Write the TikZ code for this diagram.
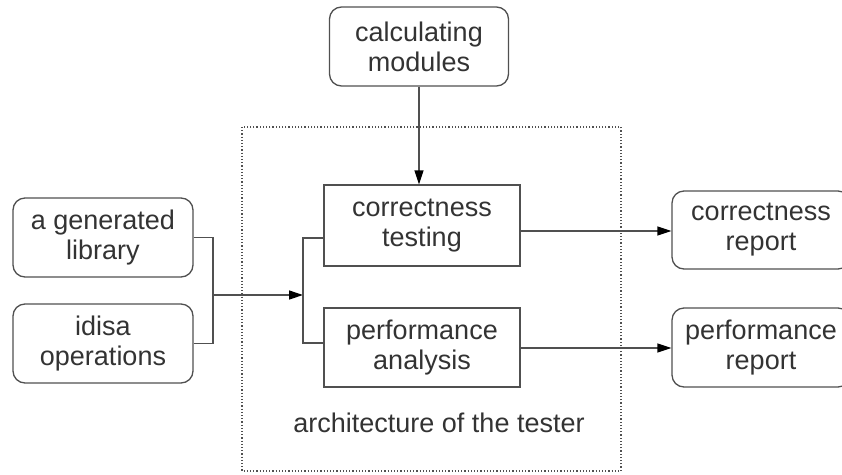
\documentclass[tikz,border=0pt]{standalone}
\usepackage{fontspec}
\setmainfont{Liberation Sans}
\usetikzlibrary{arrows.meta}
\definecolor{txt}{HTML}{333333}
\definecolor{ln}{HTML}{505050}
\begin{document}
\begin{tikzpicture}[x=1pt,y=-1pt,
  lbl/.style={font=\fontsize{27}{30}\selectfont, text=txt, align=center, inner sep=0pt},
  rbox/.style={lbl, draw=ln, line width=1.3pt, rounded corners=12pt},
  sbox/.style={lbl, draw=ln, line width=1.3pt},
  conn/.style={draw=ln, line width=1.3pt},
  arr/.style={conn, -{Triangle[length=14pt,width=9pt,color=black]}}]
\useasboundingbox (0,0) rectangle (842,474);
\draw[ln, line width=1.2pt, dotted] (242,127) rectangle (621,471);
\node[rbox, minimum width=179pt, minimum height=79pt] (calc) at (419,46.5) {calculating\\modules};
\node[sbox, minimum width=196pt, minimum height=81pt] (corr) at (422,225.5) {correctness\\testing};
\node[sbox, minimum width=196pt, minimum height=79pt] (perf) at (422,347.5) {performance\\analysis};
\node[rbox, minimum width=180pt, minimum height=79pt] (lib) at (103,237.5) {a generated\\library};
\node[rbox, minimum width=180pt, minimum height=79pt] (idisa) at (103,343.5) {idisa\\operations};
\node[rbox, minimum width=178pt, minimum height=78pt] (crep) at (761,230) {correctness\\report};
\node[rbox, minimum width=178pt, minimum height=79pt] (prep) at (761,347.5) {performance\\report};
\node[lbl] (arch) at (439,423) {architecture of the tester};
\coordinate (jl) at (213,295);
\coordinate (jr) at (303,295);
\draw[conn] (lib.east) -| (jl) |- (idisa.east);
\draw[arr] (jl) -- (jr);
\draw[conn] (corr.west |- 0,238) -| (jr) |- (perf.west |- 0,343);
\draw[arr] (calc.south) -- (calc.south |- corr.north);
\draw[arr] (corr.east |- 0,231) -- (crep.west |- 0,231);
\draw[arr] (perf.east |- 0,348) -- (prep.west |- 0,348);
\end{tikzpicture}
\end{document}
